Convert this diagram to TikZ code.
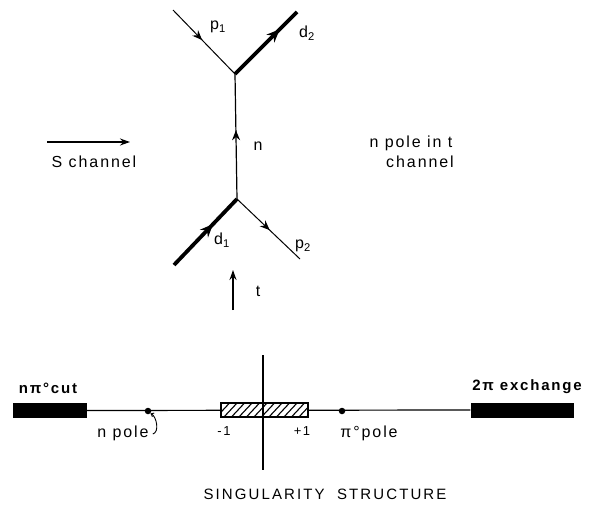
\documentclass[tikz,border=0pt]{standalone}
\usepackage{fontspec}
\setmainfont[LetterSpace=12]{Liberation Sans}
\usetikzlibrary{arrows.meta,decorations.markings}
\begin{document}
\begin{tikzpicture}[x=1pt,y=-1pt,
  lab/.style={font=\fontsize{16}{18}\selectfont, inner sep=0pt},
  smalllab/.style={font=\fontsize{13}{15}\selectfont, inner sep=0pt},
  boldlab/.style={font=\fontsize{15}{17}\selectfont\bfseries, inner sep=0pt},
  thinln/.style={line width=1pt},
  thickln/.style={line width=3.8pt},
  midarrow/.style={postaction={decorate},decoration={markings,mark=at position #1 with {\arrow{Stealth[length=10pt,width=8pt]}}}},
  bigarrow/.style={postaction={decorate},decoration={markings,mark=at position #1 with {\arrow{Stealth[length=13pt,width=11pt]}}}},
  bar/.style={fill=black, inner sep=0pt, minimum height=15pt},
  pole/.style={circle, fill=black, inner sep=0pt, minimum size=6.5pt}
]
\useasboundingbox (0,0) rectangle (589,506);

% --- Feynman diagram ---
\coordinate (v1) at (235,74);
\coordinate (v2) at (237,199);
\coordinate (p1s) at (173,10);
\coordinate (d2e) at (297,12);
\coordinate (d1s) at (174,265);
\coordinate (p2e) at (300,259);

\draw[thinln, midarrow=0.47] (p1s) -- (v1);
\draw[thickln, bigarrow=0.72] (v1) -- (d2e);
\draw[line width=1.2pt, midarrow=0.55] (v2) -- (v1);
\draw[thickln, bigarrow=0.62] (d1s) -- (v2);
\draw[thinln, midarrow=0.52] (v2) -- (p2e);

\node[lab] (lp1) at (218,27) {p\textsubscript{1}};
\node[lab] (ld2) at (307,33) {d\textsubscript{2}};
\node[lab] (ln) at (258,146) {n};
\node[lab] (ld1) at (222,240) {d\textsubscript{1}};
\node[lab] (lp2) at (303,246) {p\textsubscript{2}};

% t arrow
\coordinate (tb) at (233,310);
\coordinate (tt) at (233,270);
\draw[line width=1.6pt, -{Stealth[length=10pt,width=7pt]}] (tb) -- (tt);
\node[lab] (lt) at (258,291) {t};

% s channel arrow
\coordinate (sa) at (47,142);
\coordinate (sb) at (130,142);
\draw[line width=1.6pt, -{Stealth[length=10pt,width=7pt]}] (sa) -- (sb);
\node[lab] (ls) at (94,162) {S channel};

\node[lab] (lnp1) at (411,143) {n pole in t};
\node[lab] (lnp2) at (420,162) {channel};

% --- singularity structure ---
\node[bar, minimum width=74pt] (cutbar) at (50,410.5) {};
\node[bar, minimum width=103pt] (exbar) at (522,410) {};
\draw[line width=1.2pt] (cutbar.east) -- (exbar.west);

\node[draw, fill=white, line width=1.3pt, inner sep=0pt, minimum width=87pt, minimum height=14pt] (box) at (264.5,410) {};
\begin{scope}
  \clip (box.south west) rectangle (box.north east);
  \foreach \i in {0,7.5,...,120} {
    \draw[line width=1.1pt] (208+\i,418) -- ++(15,-16);
  }
\end{scope}
\draw[line width=1.3pt] (box.south west) rectangle (box.north east);

\coordinate (axt) at (263,355);
\coordinate (axb) at (263,470);
\draw[line width=1.2pt] (axt) -- (axb);

\node[pole] (ndot) at (148,411) {};
\node[pole] (pidot) at (342,411) {};

\node[boldlab] (lcut) at (48,388) {nπ°cut};
\node[boldlab] (lex) at (527,387) {2π exchange};
\node[lab] (lnpole) at (123,433) {n pole};
\node[smalllab] (lm1) at (224,431) {-1};
\node[smalllab] (lp1b) at (302,431) {+1};
\node[lab] (lpipole) at (369,433) {π°pole};

\draw[line width=0.9pt, -{Straight Barb[length=2.5pt,width=4pt]}] (lnpole.east) ++(4,1) .. controls +(7,-2) and +(6,3) .. (ndot.south east);

\node[font=\fontsize{15}{17}\selectfont\addfontfeature{LetterSpace=14}, inner sep=0pt] (ltitle) at (325,494) {SINGULARITY\ \ STRUCTURE};
\end{tikzpicture}
\end{document}
